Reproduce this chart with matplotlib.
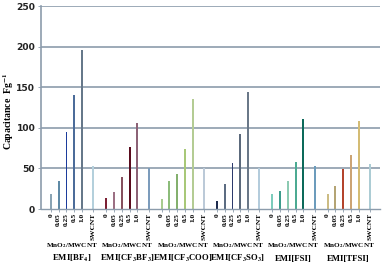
import matplotlib
matplotlib.use("Agg")
import matplotlib.pyplot as plt
import matplotlib.transforms as mtransforms

plt.rcParams["mathtext.fontset"] = "stix"

# data
electrolytes = ["EMI[BF$_\\mathbf{4}$]", "EMI[CF$_\\mathbf{3}$BF$_\\mathbf{3}$]",
                "EMI[CF$_\\mathbf{3}$COO]", "EMI[CF$_\\mathbf{3}$SO$_\\mathbf{3}$]",
                "EMI[FSI]", "EMI[TFSI]"]
tick_names = ["0", "0.05", "0.25", "0.5", "1.0", "SWCNT"]
bf4 = [19, 34, 95, 141, 196, 53]
cf3bf3 = [14, 21, 40, 76, 106, 50]
cf3coo = [12, 34, 43, 74, 135, 50]
cf3so3 = [10, 31, 57, 93, 144, 50]
fsi = [18, 22, 34, 58, 111, 53]
tfsi = [18, 29, 49, 66, 108, 55]
values = [bf4, cf3bf3, cf3coo, cf3so3, fsi, tfsi]

colors = [
    ["#8aa4b4", "#5f8aa6", "#1c3c9c", "#4c6c9a", "#66788a", "#b4d0dc"],
    ["#7c2034", "#9c7084", "#86505e", "#5a0c1e", "#8c6276", "#7c9cbc"],
    ["#a8cc90", "#8cbc7a", "#84b06e", "#a8c878", "#b4cc94", "#bccad8"],
    ["#1e2c4e", "#5c6c82", "#2c3a6c", "#5c6a7c", "#6a7888", "#b4ccdc"],
    ["#7cccbc", "#3c9c8c", "#8ccab2", "#4caa92", "#0c6a5a", "#6c9cbc"],
    ["#ccbc84", "#b4a474", "#b4442c", "#cca474", "#d4bc74", "#acccd4"],
]

group_step = 7.13
offsets = [0, 1, 2, 3, 4, 5.45]

fig = plt.figure(figsize=(3.82, 2.64), dpi=100)
ax = fig.add_axes([0.107, 0.208, 0.888, 0.769])

grid_col = "#8c9cac"
for y in [50, 100, 150, 200, 250]:
    ax.axhline(y, color=grid_col, linewidth=1.2, zorder=0)

xs, labels = [], []
for g, vals in enumerate(values):
    for i, v in enumerate(vals):
        x = g * group_step + offsets[i]
        ax.bar(x, v, width=0.25, color=colors[g][i], zorder=2)
        xs.append(x)
        labels.append(tick_names[i])

ax.set_xlim(-1.3, 5 * group_step + 5.45 + 1.3)
ax.set_ylim(0, 250)
ax.set_yticks([0, 50, 100, 150, 200, 250])
for lab in ax.get_yticklabels():
    lab.set_fontweight("bold")
    lab.set_fontsize(6.6)
    lab.set_color("#222222")

ax.set_xticks(xs)
ax.set_xticklabels(labels, rotation=90, fontsize=5.3, fontweight="bold",
                   family="Liberation Serif")
ax.tick_params(axis="x", length=2, width=0.6, color=grid_col, pad=1)
ax.tick_params(axis="y", length=2, width=0.6, color=grid_col, pad=2)

for side in ["top", "right"]:
    ax.spines[side].set_visible(False)
ax.spines["left"].set_color(grid_col)
ax.spines["bottom"].set_color(grid_col)
ax.spines["left"].set_linewidth(1.2)
ax.spines["bottom"].set_linewidth(1.0)

ax.set_ylabel("Capacitance  Fg$^{\\mathbf{-1}}$", fontsize=7, fontweight="bold",
              family="Liberation Serif")
ax.yaxis.set_label_coords(-0.072, 0.48)

trans = mtransforms.blended_transform_factory(ax.transData, ax.transAxes)
for g, name in enumerate(electrolytes):
    cx = g * group_step + 2.7
    ax.text(cx, -0.178, "MnO$_\\mathbf{2}$/MWCNT", transform=trans, ha="center",
            va="center", fontsize=5.1, fontweight="bold",
            family="Liberation Serif")
    ax.text(cx, -0.245, name, transform=trans, ha="center", va="center",
            fontsize=6.3, fontweight="bold", family="Liberation Serif")

fig.savefig("out.png", dpi=100)
